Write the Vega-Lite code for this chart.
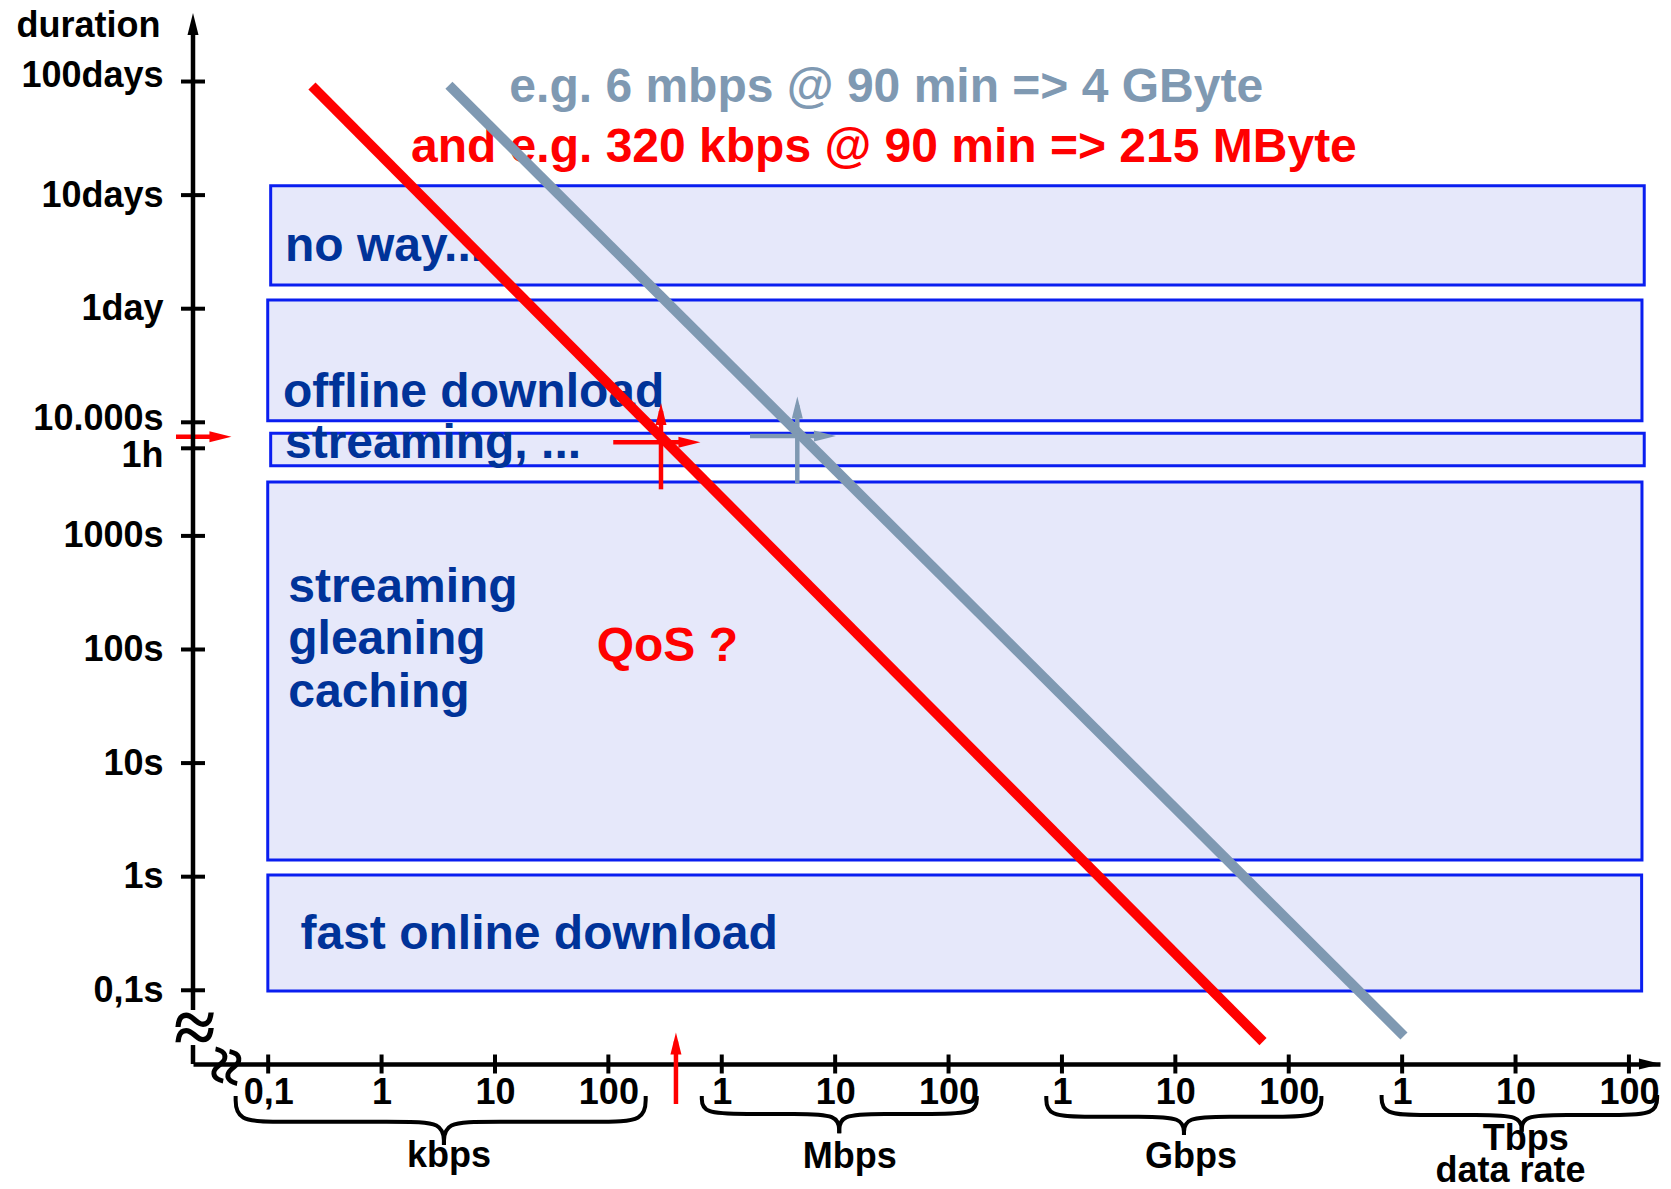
{
  "$schema": "https://vega.github.io/schema/vega-lite/v6.json",
  "width": 1467,
  "height": 1052,
  "autosize": {"type": "none"},
  "padding": {"left": 193, "top": 12, "right": 11, "bottom": 125},
  "background": "white",
  "config": {"view": {"stroke": null}, "font": "Liberation Sans"},
  "datasets": {
    "zones": [
      {"zone": "no way", "rate_log10": 2.022, "rate_log10_end": 14.135, "duration_log10": 5.209, "duration_log10_end": 6.083},
      {"zone": "offline download", "rate_log10": 1.996, "rate_log10_end": 14.115, "duration_log10": 4.014, "duration_log10_end": 5.077},
      {"zone": "streaming (1h)", "rate_log10": 2.022, "rate_log10_end": 14.135, "duration_log10": 3.618, "duration_log10_end": 3.903},
      {"zone": "streaming, gleaning, caching", "rate_log10": 1.996, "rate_log10_end": 14.115, "duration_log10": 0.147, "duration_log10_end": 3.474},
      {"zone": "fast online download", "rate_log10": 1.997, "rate_log10_end": 14.112, "duration_log10": -1.006, "duration_log10_end": 0.015}
    ],
    "labels": [
      {"text": "e.g. 6 mbps @ 90 min => 4 GByte", "series": "6 mbps @ 90 min", "rate_log10": 4.127, "duration_log10": 6.82},
      {"text": "and e.g. 320 kbps @ 90 min => 215 MByte", "series": "320 kbps @ 90 min", "rate_log10": 3.259, "duration_log10": 6.291},
      {"text": "no way...", "series": "zone", "rate_log10": 2.148, "duration_log10": 5.42},
      {"text": "offline download", "series": "zone", "rate_log10": 2.131, "duration_log10": 4.137},
      {"text": "streaming, ...", "series": "zone", "rate_log10": 2.148, "duration_log10": 3.683},
      {"text": "streaming", "series": "zone", "rate_log10": 2.177, "duration_log10": 2.421},
      {"text": "gleaning", "series": "zone", "rate_log10": 2.177, "duration_log10": 1.96},
      {"text": "caching", "series": "zone", "rate_log10": 2.177, "duration_log10": 1.494},
      {"text": "QoS ?", "series": "320 kbps @ 90 min", "rate_log10": 4.897, "duration_log10": 1.899},
      {"text": "fast online download", "series": "zone", "rate_log10": 2.285, "duration_log10": -0.641}
    ],
    "lines": [
      {"series": "320 kbps @ 90 min", "order": 1, "rate_log10": 2.386, "duration_log10": 6.96},
      {"series": "320 kbps @ 90 min", "order": 2, "rate_log10": 10.773, "duration_log10": -1.452},
      {"series": "6 mbps @ 90 min", "order": 1, "rate_log10": 3.594, "duration_log10": 6.967},
      {"series": "6 mbps @ 90 min", "order": 2, "rate_log10": 12.016, "duration_log10": -1.402}
    ],
    "shafts": [
      {"series": "320 kbps @ 90 min", "rate_log10": 1.187, "rate_log10_end": 1.56, "duration_log10": 3.873, "duration_log10_end": 3.873},
      {"series": "320 kbps @ 90 min", "rate_log10": 5.596, "rate_log10_end": 5.596, "duration_log10": -2.001, "duration_log10_end": -1.45},
      {"series": "320 kbps @ 90 min", "rate_log10": 5.464, "rate_log10_end": 5.464, "duration_log10": 3.41, "duration_log10_end": 4.1},
      {"series": "320 kbps @ 90 min", "rate_log10": 5.043, "rate_log10_end": 5.7, "duration_log10": 3.824, "duration_log10_end": 3.824},
      {"series": "6 mbps @ 90 min", "rate_log10": 6.666, "rate_log10_end": 6.666, "duration_log10": 3.463, "duration_log10_end": 4.15},
      {"series": "6 mbps @ 90 min", "rate_log10": 6.249, "rate_log10_end": 6.89, "duration_log10": 3.879, "duration_log10_end": 3.879},
      {"series": "axis", "rate_log10": 1.337, "rate_log10_end": 1.337, "duration_log10": -1.173, "duration_log10_end": 7.45},
      {"series": "axis", "rate_log10": 1.337, "rate_log10_end": 1.337, "duration_log10": -1.649, "duration_log10_end": -1.482}
    ],
    "heads": [
      {"series": "axis", "dir": "up", "rate_log10": 1.337, "duration_log10": 7.506},
      {"series": "axis", "dir": "right", "rate_log10": 14.185, "duration_log10": -1.649},
      {"series": "320 kbps @ 90 min", "dir": "right", "rate_log10": 1.579, "duration_log10": 3.873},
      {"series": "320 kbps @ 90 min", "dir": "up", "rate_log10": 5.596, "duration_log10": -1.468},
      {"series": "320 kbps @ 90 min", "dir": "up", "rate_log10": 5.464, "duration_log10": 4.073},
      {"series": "320 kbps @ 90 min", "dir": "right", "rate_log10": 5.715, "duration_log10": 3.824},
      {"series": "6 mbps @ 90 min", "dir": "up", "rate_log10": 6.666, "duration_log10": 4.13},
      {"series": "6 mbps @ 90 min", "dir": "right", "rate_log10": 6.91, "duration_log10": 3.879}
    ],
    "ticks_y": [
      {"duration_log10": -1, "rate_log10": 1.337}, {"duration_log10": 0, "rate_log10": 1.337},
      {"duration_log10": 1, "rate_log10": 1.337}, {"duration_log10": 2, "rate_log10": 1.337},
      {"duration_log10": 3, "rate_log10": 1.337}, {"duration_log10": 3.771, "rate_log10": 1.337},
      {"duration_log10": 4, "rate_log10": 1.337}, {"duration_log10": 5, "rate_log10": 1.337},
      {"duration_log10": 6, "rate_log10": 1.337}, {"duration_log10": 7, "rate_log10": 1.337}
    ],
    "ticks_x": [
      {"rate_log10": 2, "duration_log10": -1.649}, {"rate_log10": 3, "duration_log10": -1.649},
      {"rate_log10": 4, "duration_log10": -1.649}, {"rate_log10": 5, "duration_log10": -1.649},
      {"rate_log10": 6, "duration_log10": -1.649}, {"rate_log10": 7, "duration_log10": -1.649},
      {"rate_log10": 8, "duration_log10": -1.649}, {"rate_log10": 9, "duration_log10": -1.649},
      {"rate_log10": 10, "duration_log10": -1.649}, {"rate_log10": 11, "duration_log10": -1.649},
      {"rate_log10": 12, "duration_log10": -1.649}, {"rate_log10": 13, "duration_log10": -1.649},
      {"rate_log10": 14, "duration_log10": -1.649}
    ],
    "braces": [
      {"part": "kbps-L", "order": 1, "rate_log10": 1.713, "duration_log10": -1.93},
      {"part": "kbps-L", "order": 2, "rate_log10": 1.713, "duration_log10": -2.157},
      {"part": "kbps-L", "order": 3, "rate_log10": 2.113, "duration_log10": -2.157},
      {"part": "kbps-L", "order": 4, "rate_log10": 3.15, "duration_log10": -2.157},
      {"part": "kbps-L", "order": 5, "rate_log10": 3.55, "duration_log10": -2.157},
      {"part": "kbps-L", "order": 6, "rate_log10": 3.55, "duration_log10": -2.362},
      {"part": "kbps-R", "order": 1, "rate_log10": 3.55, "duration_log10": -2.362},
      {"part": "kbps-R", "order": 2, "rate_log10": 3.55, "duration_log10": -2.157},
      {"part": "kbps-R", "order": 3, "rate_log10": 3.95, "duration_log10": -2.157},
      {"part": "kbps-R", "order": 4, "rate_log10": 4.929, "duration_log10": -2.157},
      {"part": "kbps-R", "order": 5, "rate_log10": 5.329, "duration_log10": -2.157},
      {"part": "kbps-R", "order": 6, "rate_log10": 5.329, "duration_log10": -1.93},
      {"part": "Mbps-L", "order": 1, "rate_log10": 5.824, "duration_log10": -1.93},
      {"part": "Mbps-L", "order": 2, "rate_log10": 5.824, "duration_log10": -2.089},
      {"part": "Mbps-L", "order": 3, "rate_log10": 6.224, "duration_log10": -2.089},
      {"part": "Mbps-L", "order": 4, "rate_log10": 6.636, "duration_log10": -2.089},
      {"part": "Mbps-L", "order": 5, "rate_log10": 7.036, "duration_log10": -2.089},
      {"part": "Mbps-L", "order": 6, "rate_log10": 7.036, "duration_log10": -2.259},
      {"part": "Mbps-R", "order": 1, "rate_log10": 7.036, "duration_log10": -2.259},
      {"part": "Mbps-R", "order": 2, "rate_log10": 7.036, "duration_log10": -2.089},
      {"part": "Mbps-R", "order": 3, "rate_log10": 7.436, "duration_log10": -2.089},
      {"part": "Mbps-R", "order": 4, "rate_log10": 7.849, "duration_log10": -2.089},
      {"part": "Mbps-R", "order": 5, "rate_log10": 8.249, "duration_log10": -2.089},
      {"part": "Mbps-R", "order": 6, "rate_log10": 8.249, "duration_log10": -1.93},
      {"part": "Gbps-L", "order": 1, "rate_log10": 8.862, "duration_log10": -1.93},
      {"part": "Gbps-L", "order": 2, "rate_log10": 8.862, "duration_log10": -2.113},
      {"part": "Gbps-L", "order": 3, "rate_log10": 9.262, "duration_log10": -2.113},
      {"part": "Gbps-L", "order": 4, "rate_log10": 9.676, "duration_log10": -2.113},
      {"part": "Gbps-L", "order": 5, "rate_log10": 10.076, "duration_log10": -2.113},
      {"part": "Gbps-L", "order": 6, "rate_log10": 10.076, "duration_log10": -2.274},
      {"part": "Gbps-R", "order": 1, "rate_log10": 10.076, "duration_log10": -2.274},
      {"part": "Gbps-R", "order": 2, "rate_log10": 10.076, "duration_log10": -2.113},
      {"part": "Gbps-R", "order": 3, "rate_log10": 10.476, "duration_log10": -2.113},
      {"part": "Gbps-R", "order": 4, "rate_log10": 10.888, "duration_log10": -2.113},
      {"part": "Gbps-R", "order": 5, "rate_log10": 11.288, "duration_log10": -2.113},
      {"part": "Gbps-R", "order": 6, "rate_log10": 11.288, "duration_log10": -1.93},
      {"part": "Tbps-L", "order": 1, "rate_log10": 11.819, "duration_log10": -1.921},
      {"part": "Tbps-L", "order": 2, "rate_log10": 11.819, "duration_log10": -2.098},
      {"part": "Tbps-L", "order": 3, "rate_log10": 12.219, "duration_log10": -2.098},
      {"part": "Tbps-L", "order": 4, "rate_log10": 12.654, "duration_log10": -2.098},
      {"part": "Tbps-L", "order": 5, "rate_log10": 13.054, "duration_log10": -2.098},
      {"part": "Tbps-L", "order": 6, "rate_log10": 13.054, "duration_log10": -2.245},
      {"part": "Tbps-R", "order": 1, "rate_log10": 13.054, "duration_log10": -2.245},
      {"part": "Tbps-R", "order": 2, "rate_log10": 13.054, "duration_log10": -2.098},
      {"part": "Tbps-R", "order": 3, "rate_log10": 13.454, "duration_log10": -2.098},
      {"part": "Tbps-R", "order": 4, "rate_log10": 13.849, "duration_log10": -2.098},
      {"part": "Tbps-R", "order": 5, "rate_log10": 14.249, "duration_log10": -2.098},
      {"part": "Tbps-R", "order": 6, "rate_log10": 14.249, "duration_log10": -1.921}
    ],
    "units": [
      {"text": "kbps", "rate_log10": 3.594, "duration_log10": -2.558},
      {"text": "Mbps", "rate_log10": 7.129, "duration_log10": -2.567},
      {"text": "Gbps", "rate_log10": 10.138, "duration_log10": -2.565},
      {"text": "Tbps", "rate_log10": 13.09, "duration_log10": -2.41}
    ],
    "breaks": [
      {"axis": "y", "glyph": "≈", "rate_log10": 1.352, "duration_log10": -1.35},
      {"axis": "x", "glyph": "≈", "rate_log10": 1.61, "duration_log10": -1.666}
    ]
  },
  "encoding": {
    "x": {
      "field": "rate_log10",
      "type": "quantitative",
      "scale": {"domain": [1.337, 14.274], "nice": false, "zero": false},
      "axis": {
        "values": [2, 3, 4, 5, 6, 7, 8, 9, 10, 11, 12, 13, 14],
        "labelExpr": "datum.value == 2 ? '0,1' : (datum.value - 3) % 3 == 0 ? '1' : (datum.value - 3) % 3 == 1 ? '10' : '100'",
        "labelFont": "Liberation Sans",
        "labelFontSize": 36,
        "labelFontWeight": "bold",
        "labelColor": "black",
        "labelBaseline": "alphabetic",
        "labelPadding": 39,
        "labelOverlap": false,
        "labelBound": false,
        "labelFlush": false,
        "ticks": false,
        "tickSize": 0,
        "grid": false,
        "domainColor": "black",
        "domainWidth": 4.5,
        "title": "data rate",
        "titleFont": "Liberation Sans",
        "titleFontSize": 36,
        "titleFontWeight": "bold",
        "titleColor": "black",
        "titleX": 1317,
        "titleY": 117.7,
        "titleAlign": "center",
        "titleBaseline": "alphabetic"
      }
    },
    "y": {
      "field": "duration_log10",
      "type": "quantitative",
      "scale": {"domain": [-1.649, 7.612], "nice": false, "zero": false},
      "axis": {
        "values": [-1, 0, 1, 2, 3, 3.771, 4, 5, 6, 7],
        "labelExpr": "datum.value == -1 ? '0,1s' : datum.value == 0 ? '1s' : datum.value == 1 ? '10s' : datum.value == 2 ? '100s' : datum.value == 3 ? '1000s' : datum.value == 4 ? '10.000s' : datum.value == 5 ? '1day' : datum.value == 6 ? '10days' : datum.value == 7 ? '100days' : '1h'",
        "labelFont": "Liberation Sans",
        "labelFontSize": 36,
        "labelFontWeight": "bold",
        "labelColor": "black",
        "labelAlign": "right",
        "labelBaseline": "middle",
        "labelPadding": 30,
        "labelOffset": {"expr": "datum.value == 3.771 ? 7 : datum.value == 4 ? -4 : datum.value == 7 ? -6 : 0"},
        "labelOverlap": false,
        "labelBound": false,
        "labelFlush": false,
        "ticks": false,
        "tickSize": 0,
        "grid": false,
        "domain": false,
        "title": "duration",
        "titleFont": "Liberation Sans",
        "titleFontSize": 36,
        "titleFontWeight": "bold",
        "titleColor": "black",
        "titleAngle": 0,
        "titleX": -33,
        "titleY": 24,
        "titleAlign": "right",
        "titleBaseline": "alphabetic"
      }
    }
  },
  "layer": [
    {
      "data": {"name": "zones"},
      "mark": {"type": "rect", "fill": "#E6E8FA", "stroke": "#0A1EF0", "strokeWidth": 3},
      "encoding": {
        "x2": {"field": "rate_log10_end"},
        "y2": {"field": "duration_log10_end"}
      }
    },
    {
      "data": {"name": "labels"},
      "mark": {"type": "text", "font": "Liberation Sans", "fontSize": 48, "fontWeight": "bold", "align": "left", "baseline": "alphabetic"},
      "encoding": {
        "text": {"field": "text", "type": "nominal"},
        "color": {
          "field": "series", "type": "nominal", "legend": null,
          "scale": {"domain": ["320 kbps @ 90 min", "6 mbps @ 90 min", "axis", "zone"], "range": ["#FF0000", "#7F99B2", "#000000", "#003399"]}
        }
      }
    },
    {
      "data": {"name": "lines"},
      "mark": {"type": "line", "strokeWidth": 10, "strokeCap": "butt"},
      "encoding": {
        "order": {"field": "order", "type": "quantitative"},
        "color": {
          "field": "series", "type": "nominal", "legend": null,
          "scale": {"domain": ["320 kbps @ 90 min", "6 mbps @ 90 min", "axis", "zone"], "range": ["#FF0000", "#7F99B2", "#000000", "#003399"]}
        }
      }
    },
    {
      "data": {"name": "shafts"},
      "mark": {"type": "rule", "strokeWidth": 4.5},
      "encoding": {
        "x2": {"field": "rate_log10_end"},
        "y2": {"field": "duration_log10_end"},
        "color": {
          "field": "series", "type": "nominal", "legend": null,
          "scale": {"domain": ["320 kbps @ 90 min", "6 mbps @ 90 min", "axis", "zone"], "range": ["#FF0000", "#7F99B2", "#000000", "#003399"]}
        }
      }
    },
    {
      "data": {"name": "heads"},
      "mark": {"type": "point", "filled": true, "opacity": 1, "size": 484, "strokeWidth": 0},
      "encoding": {
        "shape": {
          "field": "dir", "type": "nominal", "legend": null,
          "scale": {"domain": ["up", "right"], "range": ["M0,-1L0.5,1L-0.5,1Z", "M1,0L-1,0.5L-1,-0.5Z"]}
        },
        "color": {
          "field": "series", "type": "nominal", "legend": null,
          "scale": {"domain": ["320 kbps @ 90 min", "6 mbps @ 90 min", "axis", "zone"], "range": ["#FF0000", "#7F99B2", "#000000", "#003399"]}
        }
      }
    },
    {
      "data": {"name": "ticks_y"},
      "mark": {"type": "tick", "orient": "horizontal", "size": 24, "thickness": 4, "color": "black", "opacity": 1}
    },
    {
      "data": {"name": "ticks_x"},
      "mark": {"type": "tick", "orient": "vertical", "size": 19, "thickness": 4, "color": "black", "opacity": 1}
    },
    {
      "data": {"name": "braces"},
      "mark": {"type": "line", "interpolate": "basis", "strokeWidth": 4, "color": "black"},
      "encoding": {
        "detail": {"field": "part", "type": "nominal"},
        "order": {"field": "order", "type": "quantitative"}
      }
    },
    {
      "data": {"name": "units"},
      "mark": {"type": "text", "font": "Liberation Sans", "fontSize": 36, "fontWeight": "bold", "align": "center", "baseline": "alphabetic", "color": "black"},
      "encoding": {
        "text": {"field": "text", "type": "nominal"}
      }
    },
    {
      "data": {"name": "breaks"},
      "transform": [{"filter": "datum.axis == 'y'"}],
      "mark": {"type": "text", "font": "Liberation Serif", "fontSize": 76, "fontWeight": "bold", "align": "center", "baseline": "middle", "color": "black", "angle": 0},
      "encoding": {
        "text": {"field": "glyph", "type": "nominal"}
      }
    },
    {
      "data": {"name": "breaks"},
      "transform": [{"filter": "datum.axis == 'x'"}],
      "mark": {"type": "text", "font": "Liberation Serif", "fontSize": 70, "fontWeight": "bold", "align": "center", "baseline": "middle", "color": "black", "angle": 100},
      "encoding": {
        "text": {"field": "glyph", "type": "nominal"}
      }
    }
  ]
}
